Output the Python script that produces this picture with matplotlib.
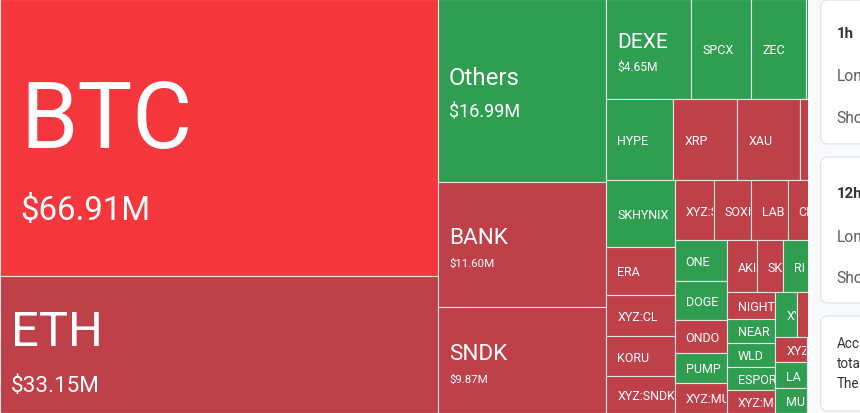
import matplotlib
matplotlib.use("Agg")
import matplotlib.pyplot as plt
from matplotlib.patches import Rectangle, FancyBboxPatch

plt.rcParams['font.family'] = ['Roboto', 'DejaVu Sans']

# liquidations per asset in $M, biggest first
# "" = tiles that sit behind the side panel (only a sliver or nothing shows)
names = ["BTC", "ETH", "Others", "BANK", "SNDK",
         "DEXE", "SPCX", "ZEC", "",
         "HYPE", "XRP", "XAU", "",
         "SKHYNIX", "ERA", "XYZ:CL", "KORU", "XYZ:SNDK",
         "XYZ:S", "SOXI", "LAB", "CI", "",
         "ONE", "DOGE", "ONDO", "PUMP", "XYZ:MU",
         "AKI", "SK", "RI", "", "",
         "NIGHT", "NEAR", "WLD", "ESPOR", "XYZ:M",
         "XY", "", "", "",
         "XYZ", "LA", "MUL",
         "", "", "", "", "", ""]
values = [66.91, 33.15, 16.99, 11.60, 9.87,
          4.65, 3.30, 3.02, 3.02,
          3.01, 2.89, 2.80, 2.77,
          2.50, 1.81, 1.55, 1.51, 1.38,
          1.30, 1.22, 1.21, 1.21, 1.21,
          1.18, 1.11, 0.95, 0.87, 0.87,
          0.86, 0.77, 0.75, 0.75, 0.75,
          0.70, 0.65, 0.64, 0.62, 0.61,
          0.53, 0.52, 0.52, 0.52,
          0.45, 0.44, 0.44,
          0.43, 0.42, 0.40, 0.38, 0.36, 0.30]
tones = ["hot", "down", "up", "down", "down",
         "up", "up", "up", "up",
         "up", "down", "down", "down",
         "up", "down", "down", "down", "down",
         "down", "down", "down", "down", "down",
         "up", "up", "down", "up", "down",
         "down", "down", "up", "up", "down",
         "down", "up", "up", "up", "down",
         "up", "down", "up", "down",
         "down", "up", "up",
         "up", "down", "down", "up", "down", "up"]

# how many tiles go into each strip of the squarified layout
rows = [2, 3, 4, 4, 5, 5, 5, 5, 5, 4, 3, 2, 2, 2]

colors = {"hot": "#f4373c", "down": "#be4048", "up": "#309e51"}

W, H = 861, 414      # full treemap, in pixels
VISIBLE = 808        # the rest is covered by the side panel


def strip_layout(vals, rows, x, y, w, h):
    scale = w * h / sum(vals)
    rects = []
    i = 0
    for n in rows:
        chunk = vals[i:i + n]
        area = sum(chunk) * scale
        if w >= h:
            cw = area / h
            yy = y
            for v in chunk:
                ch = v * scale / cw
                rects.append((x, yy, cw, ch))
                yy += ch
            x += cw
            w -= cw
        else:
            rh = area / w
            xx = x
            for v in chunk:
                cw = v * scale / rh
                rects.append((xx, y, cw, rh))
                xx += cw
            y += rh
            h -= rh
        i += n
    return rects


def label_px(v):
    # (name size, value size) in px, by tier
    if v >= 50:
        return 92, 33
    if v >= 25:
        return 49, 22.5
    if v >= 15:
        return 24, 18
    if v >= 8:
        return 22.5, 11.5
    if v >= 4:
        return 21, 12
    return 12.5, 0


PT = 0.72  # px -> pt at dpi 100
CAP = 0.71

fig = plt.figure(figsize=(8.6, 4.14), dpi=100, facecolor="#f8f9fa")

# side panel
bg = fig.add_axes([0, 0, 1, 1])
bg.set_xlim(0, 860)
bg.set_ylim(414, 0)
bg.axis("off")
for top, bottom in [(1, 145), (158, 304), (317, 412)]:
    bg.add_patch(FancyBboxPatch((820.5, top), 80, bottom - top,
                                boxstyle="round,pad=0,rounding_size=8",
                                fc="white", ec="#e3e5e8", lw=1))
bg.text(836.5, 38.5, "1h", fontsize=15 * PT, fontweight="bold", color="#333333")
bg.text(836.5, 81, "Long", fontsize=15.5 * PT, color="#5c5c5c")
bg.text(836.5, 123.5, "Short", fontsize=15.5 * PT, color="#5c5c5c")
bg.text(836.5, 198.5, "12h", fontsize=15 * PT, fontweight="bold", color="#333333")
bg.text(836.5, 242.5, "Long", fontsize=15.5 * PT, color="#5c5c5c")
bg.text(836.5, 283.5, "Short", fontsize=15.5 * PT, color="#5c5c5c")
bg.text(836.5, 348.5, "Acc", fontsize=13.5 * PT, color="#333333")
bg.text(836.5, 368.5, "tota", fontsize=13.5 * PT, color="#333333")
bg.text(836.5, 388.5, "The", fontsize=13.5 * PT, color="#333333")

# treemap
ax = fig.add_axes([0, 0, VISIBLE / 860, 1])
ax.set_xlim(0, VISIBLE)
ax.set_ylim(H, 0)
ax.axis("off")

rects = strip_layout(values, rows, 0, 0, W, H)
for (x, y, w, h), name, v, tone in zip(rects, names, values, tones):
    ax.add_patch(Rectangle((x, y), w, h, fc=colors[tone], ec="#e4e4e4", lw=0.8))
    if not name:
        continue
    clip = Rectangle((x + 0.5, y + 0.5), min(x + w, VISIBLE) - x - 1, h - 1,
                     transform=ax.transData)
    n_px, v_px = label_px(v)
    cy = y + h / 2
    pad = max(11, 0.22 * n_px)
    if v_px:
        gap = 0.6 * n_px + 1.15 * v_px
        shift = 0.4 * (n_px - v_px)
        name_c = cy + shift - gap / 2
        val_c = cy + shift + gap / 2
        t1 = ax.text(x + pad, name_c + CAP * n_px / 2, name, color="white",
                     fontsize=n_px * PT, clip_on=True)
        t2 = ax.text(x + pad, val_c + CAP * v_px / 2, f"${v:.2f}M", color="white",
                     fontsize=v_px * PT, clip_on=True)
        t1.set_clip_path(clip)
        t2.set_clip_path(clip)
    else:
        t = ax.text(x + pad, cy + CAP * n_px / 2, name, color="white",
                    fontsize=n_px * PT, clip_on=True)
        t.set_clip_path(clip)

fig.savefig("out.png", dpi=100, facecolor=fig.get_facecolor())
